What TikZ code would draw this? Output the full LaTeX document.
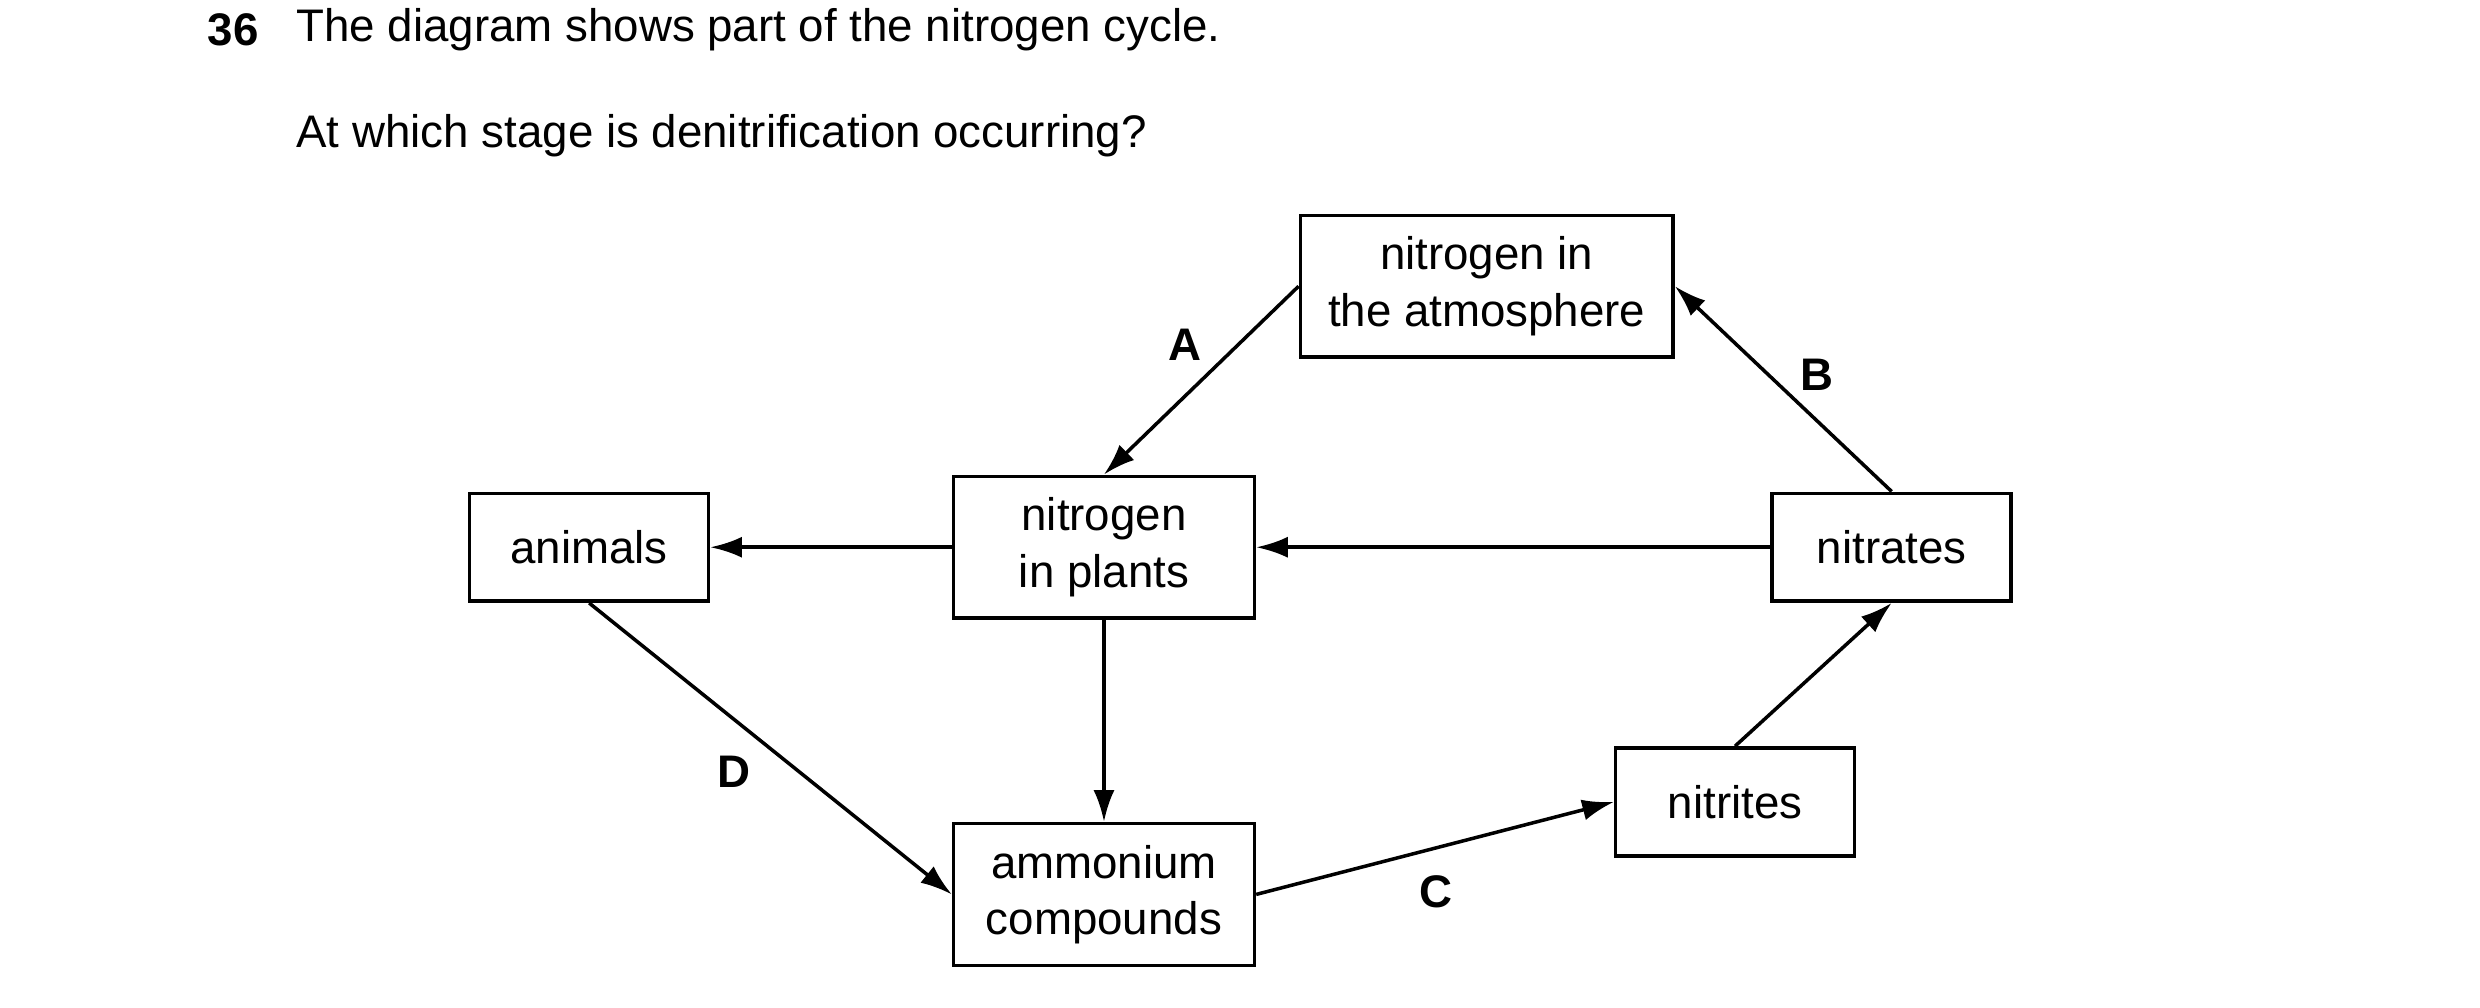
\documentclass[tikz,border=0pt]{standalone}
\usepackage{fontspec}
\setmainfont{Liberation Sans}
\usetikzlibrary{arrows.meta}
\begin{document}
\begin{tikzpicture}[x=0.01582cm,y=-0.01582cm,
  box/.style={draw,line width=1pt,inner sep=0pt,align=center,font=\fontsize{13}{16}\selectfont},
  big/.style={box,minimum width=3.01cm,minimum height=1.42cm},
  small/.style={box,minimum width=2.39cm,minimum height=1.08cm},
  arr/.style={line width=1pt,-{Latex[length=9pt,width=6pt]}},
  lab/.style={font=\fontsize{13}{16}\selectfont\bfseries},
  txt/.style={font=\fontsize{13}{16}\selectfont,anchor=west,inner sep=0pt}]
\useasboundingbox (0,0) rectangle (1568,637);
\node[txt,font=\fontsize{13}{16}\selectfont\bfseries] (num) at (131,19) {36};
\node[txt] (t1) at (187,19) {The diagram shows part of the nitrogen cycle.};
\node[txt] (t2) at (187,86) {At which stage is denitrification occurring?};
\node[box,minimum width=3.73cm,minimum height=1.42cm] (atm) at (940,181) {nitrogen in\\the atmosphere};
\node[big] (pl) at (698,346) {nitrogen\\in plants};
\node[big] (am) at (698,565.5) {ammonium\\compounds};
\node[small] (an) at (372.5,346) {animals};
\node[small] (na) at (1196,346) {nitrates};
\node[small] (ni) at (1097,507) {nitrites};
\draw[arr] (atm.west) -- (pl.north);
\draw[arr] (na.north) -- (atm.east);
\draw[arr] (na.west) -- (pl.east);
\draw[arr] (pl.west) -- (an.east);
\draw[arr] (pl.south) -- (am.north);
\draw[arr] (an.south) -- (am.west);
\draw[arr] (am.east) -- (ni.west);
\draw[arr] (ni.north) -- (na.south);
\node[lab] (la) at (749,218) {A};
\node[lab] (lb) at (1149,237) {B};
\node[lab] (lc) at (908,564) {C};
\node[lab] (ld) at (464,488) {D};
\end{tikzpicture}
\end{document}
